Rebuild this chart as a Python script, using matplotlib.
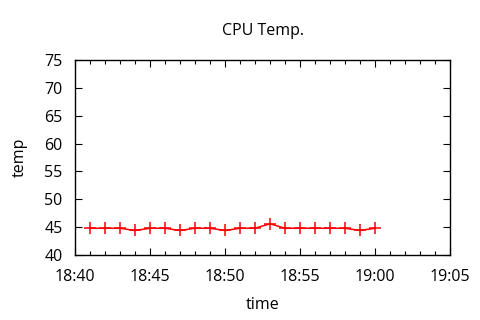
import datetime as dt
import matplotlib
matplotlib.use('Agg')
from matplotlib import pyplot as plt
import matplotlib.dates as mdates

# minutes after 18:40 and the temperature readings
minutes = [1, 2, 3, 4, 5, 6, 7, 8, 9, 10, 11, 12, 13, 14, 15, 16, 17, 18, 19, 20]
temps = [44.8, 44.8, 44.8, 44.4, 44.8, 44.8, 44.4, 44.8, 44.8, 44.4,
         44.8, 44.8, 45.6, 44.8, 44.8, 44.8, 44.8, 44.8, 44.4, 44.8]
yticks = [40, 45, 50, 55, 60, 65, 70, 75]

start = dt.datetime(2020, 1, 1, 18, 40)
times = [start + dt.timedelta(minutes=m) for m in minutes]

plt.rcParams['font.family'] = ['Open Sans', 'DejaVu Sans']

fig = plt.figure(figsize=(4.8, 3.2), dpi=100)
ax = fig.add_axes([75/480, 65/320, 375/480, 195/320])
ax.plot(times, temps, color='red', lw=1.1, marker='+', ms=8, mew=1.1)

ax.set_xlim(start, start + dt.timedelta(minutes=25))
ax.set_ylim(40, 75)
ax.set_yticks(yticks)
ax.xaxis.set_major_locator(mdates.MinuteLocator(byminute=range(0, 60, 5)))
ax.xaxis.set_minor_locator(mdates.MinuteLocator())
ax.xaxis.set_major_formatter(mdates.DateFormatter('%H:%M'))

ax.tick_params(which='both', direction='in', top=True, right=True, labelsize=11.5)
ax.tick_params(axis='x', pad=10)
ax.tick_params(axis='y', pad=9)
ax.tick_params(which='major', length=5, width=0.8)
ax.tick_params(which='minor', length=3, width=0.8)
for s in ax.spines.values():
  s.set_linewidth(1)

ax.set_title('CPU Temp.', fontsize=11.5, pad=18)
ax.set_xlabel('time', fontsize=11.5, labelpad=9)
ax.set_ylabel('temp', fontsize=11.5, labelpad=12)

plt.savefig('out.png', dpi=100)
